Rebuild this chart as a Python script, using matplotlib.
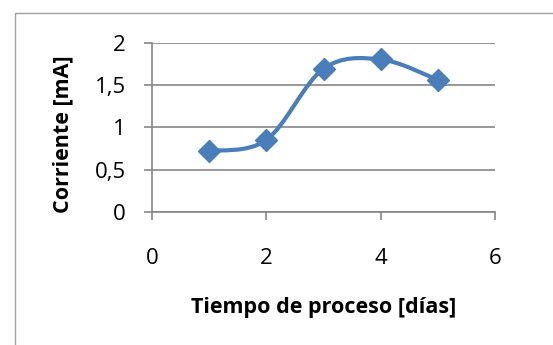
import matplotlib.pyplot as plt
from matplotlib.path import Path
from matplotlib.patches import PathPatch, Rectangle
from matplotlib.ticker import FuncFormatter
import numpy as np

plt.rcParams['font.family'] = ['Open Sans', 'DejaVu Sans']

dias = [1, 2, 3, 4, 5]
corriente = [0.72, 0.85, 1.69, 1.80, 1.56]

blue = '#4a7ebb'
gray = '#868686'

fig = plt.figure(figsize=(5.53, 3.45), dpi=100)
ax = fig.add_axes([152 / 553, 1 - 212 / 345, (495 - 152) / 553, (212 - 42.5) / 345])

# smoothed line like excel (bezier, catmull-rom style control points)
pts = np.column_stack([dias, corriente])
ext = np.vstack([pts[0], pts, pts[-1]])
verts = [pts[0]]
codes = [Path.MOVETO]
for i in range(1, len(ext) - 2):
    p0, p1, p2, p3 = ext[i - 1], ext[i], ext[i + 1], ext[i + 2]
    verts += [p1 + (p2 - p0) / 6, p2 - (p3 - p1) / 6, p2]
    codes += [Path.CURVE4] * 3
ax.add_patch(PathPatch(Path(verts, codes), fill=False, ec=blue, lw=3,
                       capstyle='round', joinstyle='round', zorder=3))
ax.plot(dias, corriente, ls='none', marker='D', ms=11, color=blue, zorder=4)

ax.set_xlim(0, 6)
ax.set_ylim(0, 2)
ax.set_xticks([0, 2, 4, 6])
ax.set_yticks([0, 0.5, 1, 1.5, 2])
ax.yaxis.set_major_formatter(FuncFormatter(lambda v, p: ('%g' % v).replace('.', ',')))
ax.grid(axis='y', color=gray, lw=1.2)
ax.set_axisbelow(True)
for s in ['top', 'right']:
    ax.spines[s].set_visible(False)
for s in ['left', 'bottom']:
    ax.spines[s].set_color(gray)
    ax.spines[s].set_linewidth(1.2)
ax.tick_params(axis='both', colors=gray, labelcolor='black', labelsize=16, width=1.2, length=6)
ax.tick_params(axis='y', pad=13)
ax.tick_params(axis='x', pad=20)

ax.set_xlabel('Tiempo de proceso [días]', fontsize=15.5, fontweight='bold', va='center')
ax.set_ylabel('Corriente [mA]', fontsize=15.5, fontweight='bold', va='center')
ax.xaxis.set_label_coords(0.5, (212 - 307) / 169.5)
ax.yaxis.set_label_coords((63 - 152) / 343, (212 - 134) / 169.5)

fig.patches.append(Rectangle((15 / 553, -0.1), 1.2, 1 - 13 / 345 + 0.1,
                             transform=fig.transFigure, fill=False, ec='#a0a0a0', lw=1))

fig.savefig('out.png', dpi=100)
